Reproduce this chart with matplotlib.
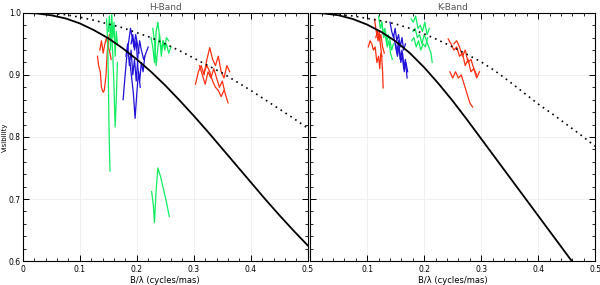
import numpy as np
import matplotlib
matplotlib.use("Agg")
import matplotlib.pyplot as plt
from matplotlib.ticker import MultipleLocator

# model curves
model_x = [0.0, 0.025, 0.05, 0.075, 0.10, 0.125, 0.15, 0.175, 0.20, 0.225, 0.25,
           0.275, 0.30, 0.325, 0.35, 0.375, 0.40, 0.425, 0.45, 0.475, 0.50]
h_solid = [1.0, 0.999, 0.996, 0.991, 0.983, 0.972, 0.959, 0.943, 0.925, 0.905, 0.883,
           0.859, 0.834, 0.808, 0.781, 0.754, 0.727, 0.700, 0.674, 0.649, 0.625]
h_dotted = [1.0, 1.0, 0.999, 0.997, 0.993, 0.988, 0.982, 0.976, 0.968, 0.960, 0.950,
            0.939, 0.927, 0.915, 0.903, 0.889, 0.875, 0.860, 0.845, 0.830, 0.814]
k_solid = [1.0, 0.999, 0.996, 0.990, 0.981, 0.969, 0.954, 0.935, 0.912, 0.886, 0.858,
           0.828, 0.797, 0.766, 0.735, 0.704, 0.673, 0.642, 0.611, 0.580, 0.549]
k_dotted = [1.0, 0.999, 0.997, 0.995, 0.991, 0.987, 0.982, 0.975, 0.966, 0.956, 0.945,
            0.933, 0.921, 0.906, 0.889, 0.871, 0.853, 0.837, 0.820, 0.803, 0.785]

RED = "#ff3010"
GREEN = "#10ee60"
BLUE = "#2010d8"

# measured visibilities (colour, x, V) for each panel
h_tracks = [
    (RED, [0.131, 0.133, 0.136, 0.138, 0.141, 0.143, 0.146, 0.148, 0.150, 0.152],
          [0.930, 0.915, 0.905, 0.880, 0.872, 0.875, 0.900, 0.935, 0.955, 0.965]),
    (RED, [0.135, 0.138, 0.141, 0.144, 0.147, 0.150, 0.153, 0.155],
          [0.940, 0.955, 0.935, 0.950, 0.960, 0.945, 0.935, 0.925]),
    (GREEN, [0.150, 0.152, 0.154, 0.156, 0.158, 0.160, 0.162, 0.164, 0.166],
            [0.970, 0.995, 0.940, 1.000, 0.960, 0.985, 0.930, 0.970, 0.950]),
    (GREEN, [0.147, 0.149, 0.150, 0.151, 0.152, 0.153],
            [0.990, 0.950, 0.900, 0.830, 0.780, 0.745]),
    (GREEN, [0.155, 0.158, 0.160, 0.162, 0.164, 0.166],
            [0.980, 0.930, 0.880, 0.816, 0.860, 0.920]),
    (BLUE, [0.176, 0.180, 0.183, 0.186, 0.189, 0.192, 0.195, 0.198, 0.201, 0.204],
           [0.860, 0.905, 0.935, 0.955, 0.975, 0.960, 0.945, 0.965, 0.950, 0.935]),
    (BLUE, [0.181, 0.184, 0.187, 0.190, 0.193, 0.196, 0.199, 0.202, 0.205, 0.208, 0.212, 0.216, 0.220],
           [0.930, 0.950, 0.915, 0.940, 0.900, 0.925, 0.890, 0.930, 0.955, 0.940, 0.925, 0.935, 0.945]),
    (BLUE, [0.188, 0.191, 0.194, 0.197, 0.200, 0.203, 0.206],
           [0.920, 0.895, 0.870, 0.830, 0.870, 0.905, 0.880]),
    (BLUE, [0.190, 0.193, 0.196, 0.199, 0.202, 0.205, 0.208, 0.211, 0.214],
           [0.950, 0.965, 0.940, 0.955, 0.910, 0.890, 0.920, 0.905, 0.930]),
    (GREEN, [0.225, 0.228, 0.231, 0.234, 0.237, 0.240, 0.243, 0.246, 0.249, 0.252, 0.256],
            [0.960, 0.945, 0.920, 0.970, 0.985, 0.960, 0.940, 0.955, 0.945, 0.960, 0.955]),
    (GREEN, [0.228, 0.231, 0.234, 0.237, 0.240, 0.243, 0.246, 0.249, 0.252, 0.256, 0.260],
            [0.975, 0.955, 0.915, 0.945, 0.965, 0.930, 0.955, 0.940, 0.950, 0.935, 0.945]),
    (GREEN, [0.226, 0.229, 0.231, 0.234, 0.237, 0.242, 0.247, 0.252, 0.257],
            [0.712, 0.690, 0.662, 0.715, 0.750, 0.735, 0.715, 0.695, 0.672]),
    (RED, [0.303, 0.308, 0.313, 0.318, 0.323, 0.328, 0.333, 0.338, 0.343, 0.348, 0.353, 0.358, 0.363],
          [0.885, 0.905, 0.915, 0.900, 0.925, 0.944, 0.925, 0.915, 0.930, 0.905, 0.895, 0.915, 0.905]),
    (RED, [0.310, 0.315, 0.320, 0.325, 0.330, 0.335, 0.340, 0.345, 0.350, 0.355, 0.360],
          [0.915, 0.900, 0.885, 0.905, 0.895, 0.910, 0.895, 0.880, 0.890, 0.870, 0.855]),
    (RED, [0.318, 0.323, 0.328, 0.333, 0.338, 0.343, 0.348, 0.353],
          [0.905, 0.915, 0.905, 0.890, 0.880, 0.875, 0.865, 0.875]),
]

k_tracks = [
    (RED, [0.102, 0.105, 0.108, 0.111, 0.114, 0.117, 0.120, 0.122, 0.124, 0.126],
          [0.945, 0.955, 0.950, 0.940, 0.945, 0.920, 0.930, 0.910, 0.935, 0.930]),
    (RED, [0.113, 0.115, 0.117, 0.119, 0.121, 0.123, 0.125, 0.127, 0.128],
          [0.990, 0.975, 0.965, 0.955, 0.970, 0.950, 0.935, 0.905, 0.879]),
    (RED, [0.115, 0.118, 0.121, 0.124, 0.127, 0.130],
          [0.960, 0.970, 0.955, 0.965, 0.945, 0.935]),
    (GREEN, [0.120, 0.123, 0.126, 0.129, 0.132, 0.135, 0.138, 0.141, 0.144],
            [0.995, 0.975, 0.985, 0.960, 0.970, 0.945, 0.955, 0.935, 0.925]),
    (GREEN, [0.125, 0.128, 0.131, 0.134, 0.137, 0.140, 0.143, 0.146],
            [0.985, 0.965, 0.975, 0.950, 0.965, 0.955, 0.940, 0.950]),
    (BLUE, [0.140, 0.143, 0.146, 0.149, 0.152, 0.155, 0.158, 0.161, 0.164, 0.167],
           [0.985, 0.970, 0.960, 0.975, 0.955, 0.965, 0.945, 0.960, 0.940, 0.950]),
    (BLUE, [0.146, 0.149, 0.152, 0.155, 0.158, 0.161, 0.164, 0.167, 0.170],
           [0.965, 0.950, 0.935, 0.955, 0.925, 0.940, 0.910, 0.925, 0.895]),
    (BLUE, [0.150, 0.153, 0.156, 0.159, 0.162, 0.165, 0.168, 0.171],
           [0.950, 0.930, 0.945, 0.920, 0.935, 0.905, 0.920, 0.905]),
    (GREEN, [0.177, 0.181, 0.185, 0.189, 0.193, 0.197, 0.201, 0.205, 0.209],
            [0.990, 0.985, 0.995, 0.975, 0.980, 0.970, 0.985, 0.965, 0.975]),
    (GREEN, [0.180, 0.184, 0.188, 0.192, 0.196, 0.200, 0.204, 0.208, 0.212, 0.214],
            [0.970, 0.975, 0.960, 0.965, 0.950, 0.965, 0.955, 0.945, 0.935, 0.920]),
    (GREEN, [0.178, 0.182, 0.186, 0.190, 0.194, 0.198, 0.202, 0.206],
            [0.955, 0.960, 0.945, 0.955, 0.940, 0.950, 0.945, 0.960]),
    (RED, [0.242, 0.247, 0.252, 0.257, 0.262, 0.267, 0.272, 0.277, 0.282, 0.287, 0.292, 0.297],
          [0.958, 0.950, 0.940, 0.945, 0.930, 0.935, 0.915, 0.925, 0.905, 0.910, 0.895, 0.905]),
    (RED, [0.252, 0.257, 0.262, 0.267, 0.272, 0.277, 0.282, 0.287, 0.292],
          [0.950, 0.955, 0.945, 0.930, 0.940, 0.920, 0.925, 0.910, 0.900]),
    (RED, [0.245, 0.250, 0.255, 0.260, 0.265, 0.270, 0.275, 0.280, 0.285],
          [0.905, 0.895, 0.905, 0.895, 0.900, 0.885, 0.870, 0.855, 0.848]),
]

x_ticks = [0, 0.1, 0.2, 0.3, 0.4, 0.5]
x_labels = ["0", "0.1", "0.2", "0.3", "0.4", "0.5"]
y_ticks = [0.6, 0.7, 0.8, 0.9, 1.0]
y_labels = ["0.6", "0.7", "0.8", "0.9", "1.0"]

fig = plt.figure(figsize=(6.0, 2.85), dpi=100)
ax_h = fig.add_axes([0.038, 0.084, 0.475, 0.871])
ax_k = fig.add_axes([0.517, 0.084, 0.475, 0.871])

panels = [(ax_h, "H-Band", h_solid, h_dotted, h_tracks),
          (ax_k, "K-Band", k_solid, k_dotted, k_tracks)]

for ax, title, solid, dotted, tracks in panels:
    ax.grid(True, color="#ececec", lw=0.6)
    ax.set_axisbelow(True)
    for color, xs, vs in tracks:
        ax.plot(xs, vs, color=color, lw=0.9)
    ax.plot(model_x, solid, color="black", lw=1.3)
    ax.plot(model_x, dotted, color="black", lw=1.2, ls=(0, (1, 2.5)))
    ax.set_xlim(0, 0.5)
    ax.set_ylim(0.6, 1.0)
    ax.set_xticks(x_ticks)
    ax.set_yticks(y_ticks)
    ax.xaxis.set_minor_locator(MultipleLocator(0.02))
    ax.yaxis.set_minor_locator(MultipleLocator(0.02))
    ax.tick_params(which="both", direction="in", top=True, right=True,
                   labelsize=5.5, pad=3)
    ax.tick_params(axis="y", pad=1.5)
    ax.tick_params(which="major", length=4, width=0.7)
    ax.tick_params(which="minor", length=2, width=0.6)
    for s in ax.spines.values():
        s.set_linewidth(0.8)
    ax.set_title(title, fontsize=6.5, color="#555555", pad=2)
    ax.set_xlabel("B/λ (cycles/mas)", fontsize=6, labelpad=1)

ax_h.set_xticklabels(x_labels)
ax_h.set_yticklabels(y_labels)
ax_h.set_ylabel("Visibility", fontsize=5, va="center")
ax_h.yaxis.set_label_coords(-0.064, 0.5)
ax_k.set_xticklabels([""] + x_labels[1:])
ax_k.set_yticklabels([])

fig.savefig("out.png", dpi=100)
